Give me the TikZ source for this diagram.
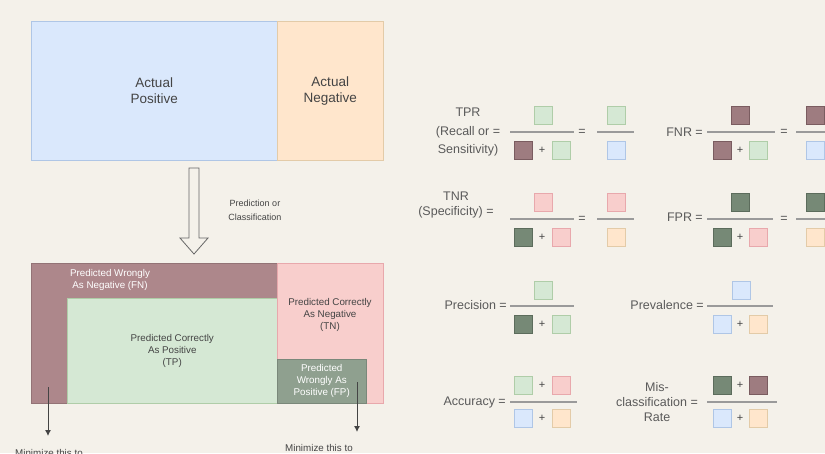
\documentclass[tikz,border=0pt]{standalone}
\usepackage{fontspec}
\setmainfont{Liberation Sans}
\usetikzlibrary{arrows.meta,calc}
\definecolor{bgc}{HTML}{F4F1EA}
\definecolor{bluef}{HTML}{DAE8FC}
\definecolor{blued}{HTML}{AFC6E6}
\definecolor{orangef}{HTML}{FFE6CC}
\definecolor{oranged}{HTML}{E3CBA8}
\definecolor{tpf}{HTML}{D5E8D4}
\definecolor{tpd}{HTML}{AFCDA8}
\definecolor{tnf}{HTML}{F8CECC}
\definecolor{tnd}{HTML}{E8A8AC}
\definecolor{fnf}{HTML}{AD878B}
\definecolor{fnsq}{HTML}{9E7C80}
\definecolor{fnsqd}{HTML}{7A5C60}
\definecolor{fpf}{HTML}{8FA08F}
\definecolor{fpsq}{HTML}{768976}
\definecolor{fpsqd}{HTML}{5C6C5C}
\definecolor{txt}{HTML}{5A5A5A}
\definecolor{dtxt}{HTML}{444444}
\definecolor{barc}{HTML}{9A9A9A}
\begin{document}
\begin{tikzpicture}[x=1pt,y=-1pt,
  region/.style={draw, line width=0.5pt, inner sep=0pt, anchor=north west},
  big/.style={font=\fontsize{13.5}{16}\selectfont, text=dtxt, align=center},
  small/.style={font=\fontsize{9.8}{12}\selectfont, text=dtxt, align=center, inner sep=0pt},
  wsmall/.style={small, text=white},
  flab/.style={font=\fontsize{12.5}{16}\selectfont, text=txt, align=center, inner sep=0pt},
  plus/.style={font=\fontsize{11}{12}\selectfont, text=dtxt, inner sep=0pt},
  sqbase/.style={draw, line width=0.6pt, minimum width=18pt, minimum height=18pt, inner sep=0pt},
  sqTP/.style={sqbase, fill=tpf, draw=tpd},
  sqTN/.style={sqbase, fill=tnf, draw=tnd},
  sqFN/.style={sqbase, fill=fnsq, draw=fnsqd},
  sqFP/.style={sqbase, fill=fpsq, draw=fpsqd},
  sqP/.style={sqbase, fill=bluef, draw=blued},
  sqN/.style={sqbase, fill=orangef, draw=oranged},
  fbar/.style={draw=barc, line width=1.3pt},
  ptr/.style={draw=dtxt, line width=0.9pt, -{Latex[length=6pt,width=6pt]}}
]
\fill[bgc] (0,0) rectangle (825,453);
\clip (0,0) rectangle (825,453);

% top: actual classes
\node[region, fill=bluef, draw=blued, minimum width=246pt, minimum height=139pt, big] (ap) at (31,21) {Actual\\Positive};
\node[region, fill=orangef, draw=oranged, minimum width=106pt, minimum height=139pt, big] (an) at (277,21) {Actual\\Negative};

% hollow arrow
\coordinate (hatop) at (194,168);
\draw[draw=gray!80!black, fill=bgc, line width=0.8pt]
  ($(hatop)+(-5,0)$) -- ($(hatop)+(5,0)$) -- ($(hatop)+(5,70)$) -- ($(hatop)+(14,70)$)
  -- ($(hatop)+(0,86)$) -- ($(hatop)+(-14,70)$) -- ($(hatop)+(-5,70)$) -- cycle;
\node[small, font=\fontsize{9}{14}\selectfont] (pc) at (255,210) {Prediction or\\Classification};

% bottom: predictions
\node[region, fill=fnf, draw=fnf!85!black, minimum width=246pt, minimum height=140pt] (fn) at (31,263) {};
\node[region, fill=tpf, draw=tpd, minimum width=210pt, minimum height=105pt, small] (tp) at (67,298) {Predicted Correctly\\As Positive\\(TP)};
\node[region, fill=tnf, draw=tnd, minimum width=106pt, minimum height=140pt] (tn) at (277,263) {};
\node[small] (tnlab) at (330,315) {Predicted Correctly\\As Negative\\(TN)};
\node[region, fill=fpf, draw=fpf!85!black, minimum width=89pt, minimum height=44pt, wsmall] (fp) at (277,359) {Predicted\\Wrongly As\\Positive (FP)};
\node[wsmall] (fnlab) at (110,280) {Predicted Wrongly\\As Negative (FN)};

% pointers
\coordinate (p1s) at (48,387);
\coordinate (p1e) at (48,436);
\coordinate (p2s) at (357,382);
\coordinate (p2e) at (357,432);
\draw[ptr] (p1s) -- (p1e);
\draw[ptr] (p2s) -- (p2e);
\node[small, anchor=north west] (m1) at (15,449) {Minimize this to};
\node[small, anchor=north west] (m2) at (285,444) {Minimize this to};

% ---------- formulas ----------
% TPR
\node[flab, font=\fontsize{12.5}{18.5}\selectfont] (tprl) at (468,132) {TPR\\(Recall or =\\Sensitivity)};
\node[sqTP] (a1n) at (543,115) {};
\draw[fbar] (510,132) -- (574,132);
\node[sqFN] (a1d1) at (523,150) {};
\node[plus] (a1dp) at (542,150) {+};
\node[sqTP] (a1d2) at (561,150) {};
\node[flab] (a1eq) at (582,132) {=};
\node[sqTP] (a2n) at (616,115) {};
\draw[fbar] (597,132) -- (634,132);
\node[sqP] (a2d) at (616,150) {};
% FNR
\node[flab, anchor=east] (fnrl) at (703,132) {FNR =};
\node[sqFN] (b1n) at (740,115) {};
\draw[fbar] (707,132) -- (775,132);
\node[sqFN] (b1d1) at (722,150) {};
\node[plus] (b1dp) at (740,150) {+};
\node[sqTP] (b1d2) at (758,150) {};
\node[flab] (b1eq) at (784,132) {=};
\node[sqFN] (b2n) at (815,115) {};
\draw[fbar] (796,132) -- (835,132);
\node[sqP] (b2d) at (815,150) {};

% TNR
\node[flab, font=\fontsize{12.5}{15}\selectfont] (tnrl) at (456,205) {TNR\\(Specificity) =};
\node[sqTN] (c1n) at (543,202) {};
\draw[fbar] (510,219) -- (574,219);
\node[sqFP] (c1d1) at (523,237) {};
\node[plus] (c1dp) at (542,237) {+};
\node[sqTN] (c1d2) at (561,237) {};
\node[flab] (c1eq) at (582,219) {=};
\node[sqTN] (c2n) at (616,202) {};
\draw[fbar] (597,219) -- (634,219);
\node[sqN] (c2d) at (616,237) {};
% FPR
\node[flab, anchor=east] (fprl) at (703,217) {FPR =};
\node[sqFP] (d1n) at (740,202) {};
\draw[fbar] (707,219) -- (773,219);
\node[sqFP] (d1d1) at (722,237) {};
\node[plus] (d1dp) at (740,237) {+};
\node[sqTN] (d1d2) at (758,237) {};
\node[flab] (d1eq) at (784,219) {=};
\node[sqFP] (d2n) at (815,202) {};
\draw[fbar] (796,219) -- (835,219);
\node[sqN] (d2d) at (815,237) {};

% Precision
\node[flab, anchor=east] (precl) at (507,305) {Precision =};
\node[sqTP] (e1n) at (543,290) {};
\draw[fbar] (510,306) -- (574,306);
\node[sqFP] (e1d1) at (523,324) {};
\node[plus] (e1dp) at (542,324) {+};
\node[sqTP] (e1d2) at (561,324) {};
% Prevalence
\node[flab, anchor=east] (prevl) at (704,305) {Prevalence =};
\node[sqP] (f1n) at (741,290) {};
\draw[fbar] (707,306) -- (773,306);
\node[sqP] (f1d1) at (722,324) {};
\node[plus] (f1dp) at (740,324) {+};
\node[sqN] (f1d2) at (758,324) {};

% Accuracy
\node[flab, anchor=east] (accl) at (506,402) {Accuracy =};
\node[sqTP] (g1n1) at (523,385) {};
\node[plus] (g1np) at (542,385) {+};
\node[sqTN] (g1n2) at (561,385) {};
\draw[fbar] (510,402) -- (577,402);
\node[sqP] (g1d1) at (523,418) {};
\node[plus] (g1dp) at (542,418) {+};
\node[sqN] (g1d2) at (561,418) {};
% Misclassification rate
\node[flab, font=\fontsize{12.5}{15}\selectfont] (misl) at (657,402) {Mis-\\classification =\\Rate};
\node[sqFP] (h1n1) at (722,385) {};
\node[plus] (h1np) at (740,385) {+};
\node[sqFN] (h1n2) at (758,385) {};
\draw[fbar] (707,402) -- (777,402);
\node[sqP] (h1d1) at (722,418) {};
\node[plus] (h1dp) at (740,418) {+};
\node[sqN] (h1d2) at (758,418) {};
\end{tikzpicture}
\end{document}
